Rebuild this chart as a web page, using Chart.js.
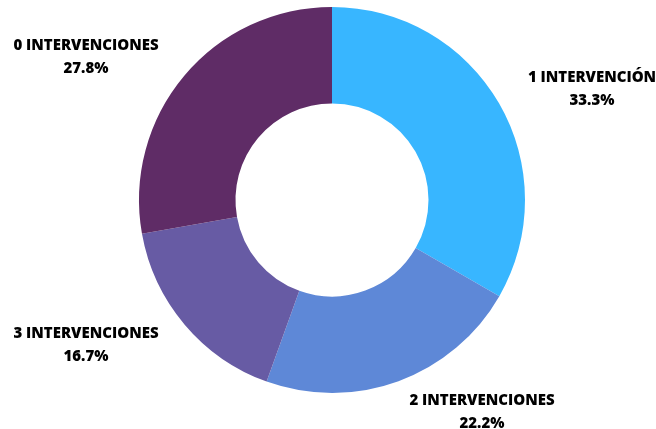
<!DOCTYPE html>
<html>
<head>
<meta charset="utf-8">
<script src="https://cdn.jsdelivr.net/npm/chart.js@4"></script>
<style>
  html, body { margin: 0; padding: 0; background: #ffffff; }
  #wrap { width: 656px; height: 429px; }
</style>
</head>
<body>
<div id="wrap"><canvas id="c" width="656" height="429"></canvas></div>
<script>
// Share of cases by number of interventions
const categories = ['1 INTERVENCIÓN', '2 INTERVENCIONES', '3 INTERVENCIONES', '0 INTERVENCIONES'];
const shares = [33.3, 22.2, 16.7, 27.8];
const sliceColors = ['#38B6FF', '#5E88D7', '#675BA4', '#5F2C66'];

// Where each two-line caption sits (centre of text block)
const captionAnchors = [
  { x: 592, y: 78 },
  { x: 482, y: 401 },
  { x: 86, y: 334 },
  { x: 86, y: 46 }
];

const captionPlugin = {
  id: 'captions',
  afterDraw(chart) {
    const ctx = chart.ctx;
    const data = chart.data.datasets[0].data;
    ctx.save();
    ctx.fillStyle = '#000000';
    ctx.textAlign = 'center';
    ctx.textBaseline = 'middle';
    ctx.font = '800 15px "Open Sans"';
    chart.data.labels.forEach((label, i) => {
      const a = captionAnchors[i];
      ctx.fillText(label, a.x, a.y);
      ctx.fillText(data[i].toFixed(1) + '%', a.x, a.y + 23);
    });
    ctx.restore();
  }
};

new Chart(document.getElementById('c'), {
  type: 'doughnut',
  data: {
    labels: categories,
    datasets: [{
      data: shares,
      backgroundColor: sliceColors,
      borderWidth: 0
    }]
  },
  options: {
    responsive: false,
    animation: false,
    cutout: '50%',
    layout: { padding: { top: 7, bottom: 36, left: 139, right: 131 } },
    plugins: {
      legend: { display: false },
      tooltip: { enabled: false }
    }
  },
  plugins: [captionPlugin]
});
</script>
</body>
</html>
